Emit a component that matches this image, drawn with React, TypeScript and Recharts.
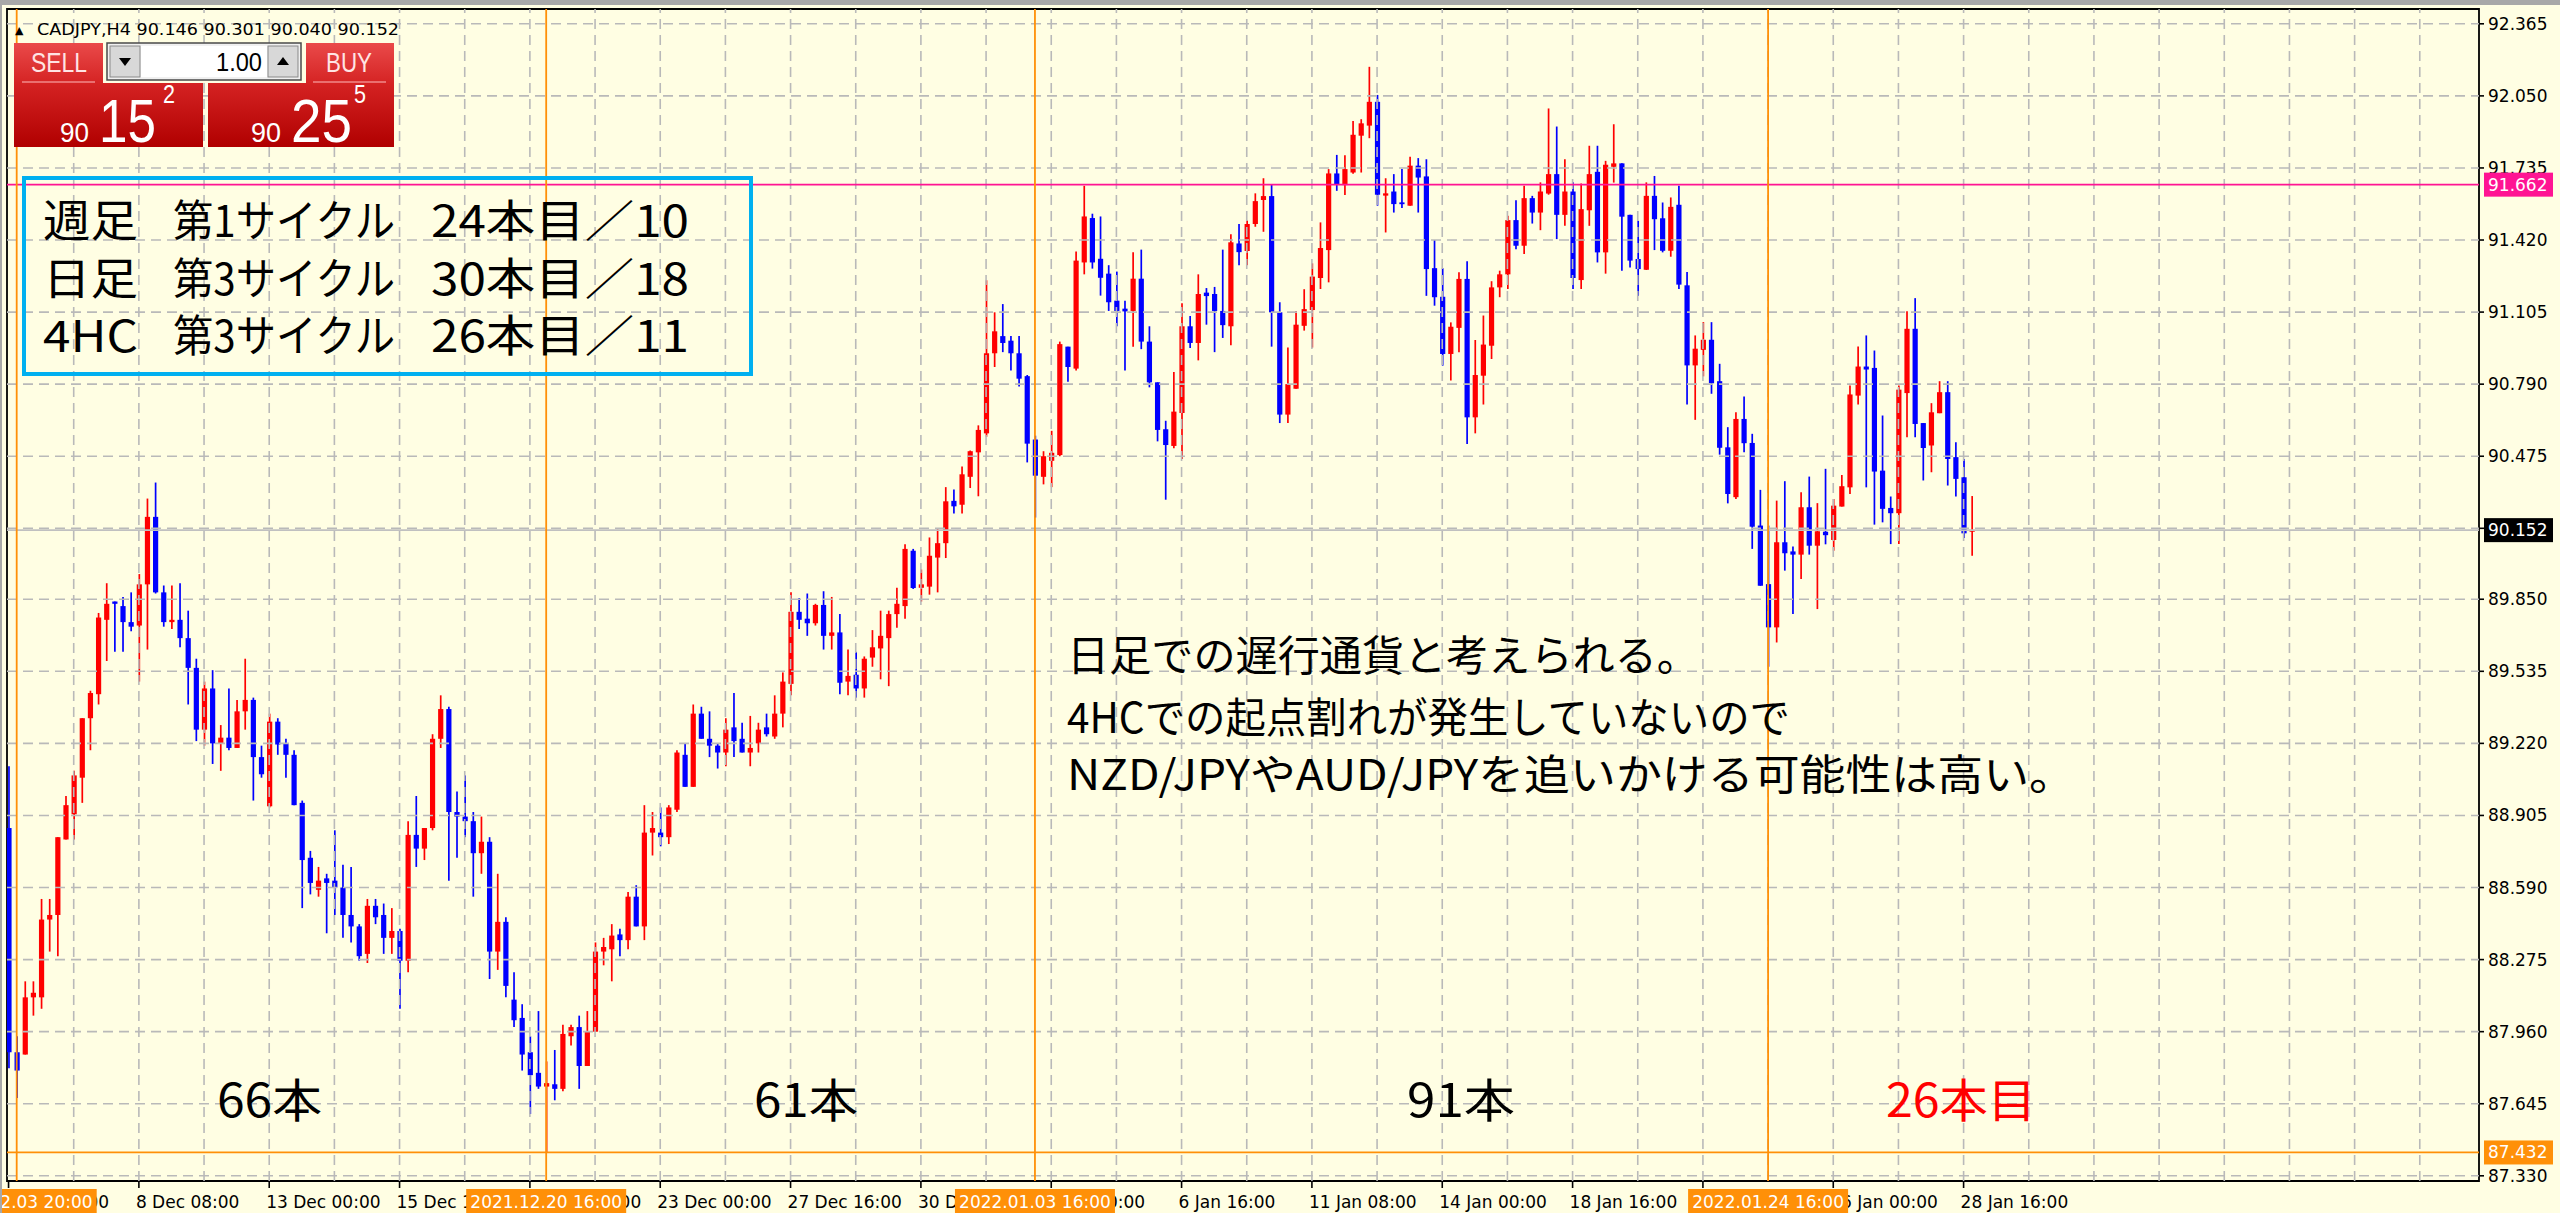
import React from "react"
import { ComposedChart, XAxis, YAxis, Bar, ReferenceLine, ReferenceArea } from "recharts"

// CADJPY H4, bar 0 = 2021.12.03 16:00 ... bar 241 = 2022.01.28 16:00
const opens = [
  88.85, 87.87, 87.86, 88.11, 88.11, 88.45, 88.47, 88.8, 88.91, 89.07,
  89.33, 89.435, 89.76, 89.84, 89.82, 89.75, 89.735, 89.915, 90.21, 89.88,
  89.75, 89.76, 89.68, 89.55, 89.28, 89.46, 89.22, 89.245, 89.2, 89.36,
  89.41, 89.16, 88.945, 89.315, 89.22, 89.17, 88.96, 88.72, 88.58, 88.63,
  88.62, 88.59, 88.47, 88.42, 88.3, 88.51, 88.47, 88.37, 88.4, 88.27,
  88.82, 88.76, 88.85, 89.24, 89.37, 88.92, 88.9, 88.88, 88.74, 88.79,
  88.31, 88.44, 88.1, 88.02, 87.87, 87.78, 87.72, 87.73, 87.71, 87.94,
  87.98, 87.81, 87.96, 88.31, 88.32, 88.385, 88.36, 88.55, 88.42, 88.83,
  88.83, 88.81, 88.93, 89.17, 89.03, 89.35, 89.24, 89.21, 89.18, 89.29,
  89.24, 89.18, 89.22, 89.29, 89.25, 89.35, 89.48, 89.795, 89.765, 89.745,
  89.825, 89.69, 89.705, 89.49, 89.52, 89.46, 89.595, 89.635, 89.68, 89.785,
  89.82, 90.062, 89.9, 89.905, 90.032, 90.095, 90.28, 90.263, 90.385, 90.492,
  90.575, 90.925, 91.0, 90.98, 90.925, 90.825, 90.548, 90.385, 90.455, 90.48,
  90.954, 90.858, 91.322, 91.516, 91.338, 91.273, 91.155, 91.12, 91.11, 91.251,
  90.976, 90.798, 90.593, 90.52, 90.664, 91.043, 90.97, 91.19, 91.184, 91.11,
  91.043, 91.405, 91.372, 91.49, 91.595, 91.612, 91.104, 90.657, 90.77, 91.045,
  91.114, 91.254, 91.376, 91.711, 91.66, 91.715, 91.876, 91.92, 92.024, 91.614,
  91.632, 91.584, 91.57, 91.745, 91.698, 91.297, 91.172, 90.922, 91.036, 91.25,
  90.645, 90.827, 90.958, 91.213, 91.27, 91.507, 91.395, 91.603, 91.54, 91.623,
  91.708, 91.53, 91.632, 91.245, 91.55, 91.718, 91.366, 91.74, 91.755, 91.53,
  91.337, 91.29, 91.613, 91.515, 91.373, 91.574, 91.222, 90.872, 90.94, 90.984,
  90.803, 90.514, 90.296, 90.638, 90.533, 90.172, 89.916, 89.727, 90.099, 90.059,
  90.045, 90.252, 90.084, 90.145, 90.109, 90.255, 90.339, 90.74, 90.867, 90.861,
  90.412, 90.249, 90.226, 90.751, 91.032, 90.62, 90.522, 90.663, 90.755, 90.471,
  90.383, 90.146,
]
const highs = [
  89.12, 87.94, 88.18, 88.18, 88.54, 88.54, 88.81, 88.99, 89.1, 89.33,
  89.45, 89.79, 89.92, 89.84, 89.86, 89.88, 89.96, 90.29, 90.36, 89.91,
  89.91, 89.92, 89.8, 89.59, 89.49, 89.54, 89.3, 89.46, 89.41, 89.59,
  89.42, 89.21, 89.35, 89.33, 89.24, 89.19, 88.97, 88.75, 88.68, 88.65,
  88.84, 88.69, 88.68, 88.43, 88.54, 88.54, 88.52, 88.5, 88.41, 88.88,
  88.99, 88.85, 89.26, 89.43, 89.38, 89.01, 89.08, 88.92, 88.9, 88.81,
  88.65, 88.46, 88.22, 88.08, 87.94, 88.05, 87.83, 87.88, 87.99, 87.99,
  88.03, 88.05, 88.35, 88.37, 88.43, 88.41, 88.57, 88.6, 88.95, 88.92,
  88.94, 88.95, 89.19, 89.22, 89.39, 89.38, 89.36, 89.22, 89.33, 89.44,
  89.31, 89.34, 89.31, 89.35, 89.43, 89.53, 89.88, 89.855, 89.875, 89.83,
  89.885, 89.86, 89.785, 89.63, 89.62, 89.6, 89.715, 89.8, 89.8, 89.9,
  90.09, 90.07, 89.98, 90.12, 90.16, 90.34, 90.33, 90.43, 90.5, 90.61,
  91.244, 91.104, 91.14, 91.0, 91.0, 90.83, 90.565, 90.497, 90.586, 90.976,
  90.954, 91.37, 91.657, 91.535, 91.523, 91.31, 91.282, 91.155, 91.367, 91.378,
  91.043, 90.798, 90.63, 90.843, 91.144, 91.088, 91.27, 91.21, 91.215, 91.378,
  91.445, 91.49, 91.505, 91.624, 91.69, 91.661, 91.148, 90.95, 91.11, 91.205,
  91.318, 91.497, 91.73, 91.792, 91.79, 91.94, 91.948, 92.177, 92.054, 91.69,
  91.708, 91.73, 91.784, 91.778, 91.773, 91.42, 91.297, 91.06, 91.279, 91.327,
  90.983, 91.09, 91.24, 91.286, 91.526, 91.594, 91.657, 91.613, 91.672, 91.995,
  91.916, 91.773, 91.672, 91.667, 91.832, 91.832, 91.766, 91.926, 91.755, 91.53,
  91.504, 91.672, 91.7, 91.584, 91.606, 91.657, 91.28, 91.003, 91.061, 91.061,
  90.879, 90.602, 90.667, 90.736, 90.573, 90.328, 90.172, 90.281, 90.366, 90.08,
  90.318, 90.386, 90.27, 90.42, 90.288, 90.393, 90.784, 90.955, 91.003, 90.937,
  90.653, 90.299, 90.784, 91.109, 91.166, 90.62, 90.707, 90.803, 90.803, 90.536,
  90.463, 90.301,
]
const lows = [
  87.8, 87.67, 87.86, 88.03, 88.06, 88.31, 88.29, 88.8, 88.8, 88.96,
  89.19, 89.39, 89.58, 89.62, 89.62, 89.71, 89.49, 89.63, 89.875, 89.73,
  89.72, 89.64, 89.39, 89.23, 89.21, 89.13, 89.1, 89.19, 89.2, 89.28,
  88.97, 89.07, 88.94, 89.17, 89.07, 88.95, 88.5, 88.56, 88.55, 88.39,
  88.47, 88.37, 88.35, 88.27, 88.26, 88.43, 88.3, 88.3, 88.06, 88.22,
  88.68, 88.71, 88.84, 89.2, 88.62, 88.72, 88.81, 88.55, 88.65, 88.19,
  88.23, 88.11, 87.98, 87.79, 87.6, 87.71, 87.432, 87.66, 87.7, 87.9,
  87.71, 87.81, 87.96, 88.25, 88.18, 88.29, 88.32, 88.42, 88.36, 88.73,
  88.77, 88.78, 88.92, 89.03, 89.03, 89.24, 89.16, 89.11, 89.12, 89.16,
  89.18, 89.12, 89.18, 89.25, 89.24, 89.29, 89.43, 89.72, 89.69, 89.735,
  89.63, 89.63, 89.435, 89.43, 89.42, 89.42, 89.555, 89.5, 89.47, 89.725,
  89.765, 89.895, 89.84, 89.87, 89.88, 90.03, 90.225, 90.225, 90.336, 90.3,
  90.56, 90.865, 90.93, 90.85, 90.78, 90.448, 90.207, 90.352, 90.34, 90.475,
  90.8, 90.85, 91.27, 91.295, 91.177, 91.11, 91.043, 90.85, 90.954, 90.943,
  90.776, 90.54, 90.285, 90.51, 90.463, 90.948, 90.894, 91.05, 90.93, 90.992,
  90.96, 91.31, 91.31, 91.478, 91.456, 90.954, 90.62, 90.62, 90.77, 91.024,
  90.95, 91.206, 91.235, 91.635, 91.617, 91.71, 91.715, 91.865, 91.57, 91.453,
  91.54, 91.56, 91.57, 91.54, 91.176, 91.133, 90.871, 90.806, 90.93, 90.529,
  90.575, 90.701, 90.9, 91.17, 91.206, 91.38, 91.359, 91.492, 91.463, 91.618,
  91.424, 91.482, 91.206, 91.206, 91.482, 91.322, 91.273, 91.671, 91.286, 91.3,
  91.176, 91.289, 91.376, 91.366, 91.347, 91.206, 90.701, 90.634, 90.824, 90.748,
  90.482, 90.269, 90.288, 90.492, 90.07, 89.909, 89.555, 89.661, 89.975, 89.785,
  89.938, 90.045, 89.807, 90.09, 90.062, 90.255, 90.31, 90.701, 90.339, 90.176,
  90.186, 90.091, 90.091, 90.558, 90.558, 90.369, 90.405, 90.663, 90.347, 90.299,
  90.118, 90.04,
]
const closes = [
  87.87, 87.79, 88.11, 88.13, 88.45, 88.47, 88.81, 88.95, 89.08, 89.33,
  89.44, 89.77, 89.83, 89.83, 89.75, 89.73, 89.915, 90.21, 89.88, 89.75,
  89.76, 89.68, 89.55, 89.28, 89.46, 89.22, 89.245, 89.2, 89.36, 89.41,
  89.16, 89.085, 89.315, 89.215, 89.17, 88.95, 88.71, 88.61, 88.62, 88.61,
  88.59, 88.47, 88.42, 88.29, 88.51, 88.46, 88.37, 88.4, 88.27, 88.82,
  88.76, 88.85, 89.24, 89.37, 88.92, 88.9, 88.88, 88.74, 88.79, 88.31,
  88.44, 88.16, 88.01, 87.86, 87.77, 87.72, 87.735, 87.71, 87.95, 87.98,
  87.81, 87.96, 88.31, 88.33, 88.38, 88.36, 88.55, 88.42, 88.83, 88.85,
  88.81, 88.94, 89.18, 89.03, 89.35, 89.24, 89.21, 89.18, 89.28, 89.23,
  89.18, 89.2, 89.28, 89.26, 89.35, 89.49, 89.795, 89.76, 89.745, 89.825,
  89.69, 89.705, 89.485, 89.515, 89.46, 89.59, 89.64, 89.69, 89.785, 89.83,
  90.07, 89.899, 89.915, 90.04, 90.095, 90.278, 90.256, 90.396, 90.497, 90.59,
  90.925, 91.021, 90.97, 90.925, 90.814, 90.53, 90.39, 90.475, 90.49, 90.965,
  90.865, 91.33, 91.523, 91.322, 91.255, 91.148, 91.11, 91.108, 91.251, 90.976,
  90.798, 90.59, 90.524, 90.67, 91.043, 90.97, 91.184, 91.175, 91.11, 91.048,
  91.41, 91.367, 91.49, 91.59, 91.612, 91.104, 90.657, 90.79, 91.05, 91.118,
  91.26, 91.385, 91.711, 91.661, 91.73, 91.88, 91.93, 92.024, 91.618, 91.624,
  91.577, 91.577, 91.745, 91.693, 91.293, 91.17, 90.922, 91.041, 91.25, 90.645,
  90.83, 90.963, 91.213, 91.27, 91.507, 91.395, 91.603, 91.54, 91.632, 91.708,
  91.53, 91.632, 91.254, 91.555, 91.708, 91.366, 91.749, 91.755, 91.522, 91.33,
  91.293, 91.613, 91.511, 91.373, 91.565, 91.225, 90.872, 90.945, 90.984, 90.794,
  90.512, 90.31, 90.638, 90.532, 90.167, 89.909, 89.727, 90.099, 90.051, 90.045,
  90.252, 90.084, 90.147, 90.13, 90.259, 90.344, 90.745, 90.867, 90.854, 90.408,
  90.245, 90.226, 90.766, 91.032, 90.616, 90.511, 90.667, 90.755, 90.463, 90.376,
  90.138, 90.152,
]

const priceLevels = [
  92.365, 92.05, 91.735, 91.42, 91.105, 90.79, 90.475, 90.16, 89.85,
  89.535, 89.22, 88.905, 88.59, 88.275, 87.96, 87.645, 87.33,
]
const timeTickBars = [0, 16, 32, 48, 64, 80, 96, 112, 128, 144, 160, 176, 192, 208, 224, 240]
const timeTickLabels = [
  "3 Dec 16:00", "8 Dec 08:00", "13 Dec 00:00", "15 Dec 16:00", "20 Dec 08:00", "23 Dec 00:00",
  "27 Dec 16:00", "30 Dec 08:00", "4 Jan 00:00", "6 Jan 16:00", "11 Jan 08:00", "14 Jan 00:00",
  "18 Jan 16:00", "21 Jan 08:00", "26 Jan 00:00", "28 Jan 16:00",
]
const cycleBars = [1, 66, 126, 216]
const cycleDates = ["2021.12.03 20:00", "2021.12.20 16:00", "2022.01.03 16:00", "2022.01.24 16:00"]
const cycleCounts = ["66本", "61本", "91本", "26本目"]
const resistanceLevel = 91.662
const bidLevel = 90.152
const supportLevel = 87.432

const W = 2560
const H = 1213
const X_DOMAIN: [number, number] = [-0.19, 303.27]
const Y_DOMAIN: [number, number] = [87.3073, 92.4297]
const gridBars = Array.from({ length: 37 }, (_, k) => (k + 1) * 8)

const BG = "#fffee3"
const UP = "#ff0000"
const DOWN = "#0000ff"
const GRID = "#b9b9b9"
const ORANGE = "#ff9008"
const MAGENTA = "#ff1493"
const BID = "#c0c0c0"
const AXIS_FONT = "'DejaVu Sans', Verdana, sans-serif"
const JP_FONT = "'Noto Sans CJK JP', 'Noto Sans', sans-serif"
const NARROW = "'Liberation Sans Narrow', 'Liberation Sans', Arial, sans-serif"

const rows = opens.map((o, i) => ({ i, o, h: highs[i], l: lows[i], c: closes[i] }))

function Candle(props: any) {
  const { x, y, width, height, payload } = props
  if (!payload) return null
  const top = Math.min(y, y + height)
  const bottom = Math.max(y, y + height)
  const { o, h, l, c } = payload
  const toY = (p: number) => top + ((h - p) / (h - l || 1)) * (bottom - top)
  const cx = x + width / 2
  const color = c >= o ? UP : DOWN
  let y1 = toY(Math.max(o, c))
  let y2 = toY(Math.min(o, c))
  if (y2 - y1 < 1.8) {
    const m = (y1 + y2) / 2
    y1 = m - 0.9
    y2 = m + 0.9
  }
  return (
    <g>
      <line x1={cx} x2={cx} y1={top} y2={bottom} stroke={color} strokeWidth={1.7} />
      <rect x={cx - 2.6} y={y1} width={5.2} height={y2 - y1} fill={color} />
    </g>
  )
}

function TimeLabel({ viewBox, text }: any) {
  if (!viewBox) return null
  const x = viewBox.x
  const base = viewBox.y + viewBox.height
  return (
    <g>
      <line x1={x} x2={x} y1={base} y2={base + 7} stroke="#000" strokeWidth={1.6} />
      <text x={x - 3} y={base + 27} fontFamily={AXIS_FONT} fontSize={17} fill="#000">
        {text}
      </text>
    </g>
  )
}

function PriceLabel({ viewBox, text }: any) {
  if (!viewBox) return null
  const r = viewBox.x + viewBox.width
  const y = viewBox.y
  return (
    <g>
      <line x1={r} x2={r + 5} y1={y} y2={y} stroke="#000" strokeWidth={1.6} />
      <text x={r + 9} y={y} dominantBaseline="central" fontFamily={AXIS_FONT} fontSize={17} fill="#000">
        {text}
      </text>
    </g>
  )
}

function PriceBox({ viewBox, text, fill }: any) {
  if (!viewBox) return null
  const r = viewBox.x + viewBox.width
  const y = viewBox.y
  return (
    <g>
      <rect x={r + 5} y={y - 12} width={69} height={24} fill={fill} />
      <text x={r + 9} y={y} dominantBaseline="central" fontFamily={AXIS_FONT} fontSize={17} fill="#fff">
        {text}
      </text>
    </g>
  )
}

function DateBox({ viewBox, text }: any) {
  if (!viewBox) return null
  const x = viewBox.x
  const base = viewBox.y + viewBox.height
  return (
    <g>
      <rect x={x - 80} y={base + 8} width={160} height={25} fill={ORANGE} />
      <text x={x} y={base + 27} textAnchor="middle" fontFamily={AXIS_FONT} fontSize={17} fill="#fff">
        {text}
      </text>
    </g>
  )
}

function TradePanel() {
  return (
    <g>
      <defs>
        <linearGradient id="redBtn" x1="0" y1="43" x2="0" y2="147" gradientUnits="userSpaceOnUse">
          <stop offset="0" stopColor="#ea4a4a" />
          <stop offset="0.4" stopColor="#d42222" />
          <stop offset="1" stopColor="#b00000" />
        </linearGradient>
      </defs>
      <rect x={14} y={43} width={89} height={42} fill="url(#redBtn)" />
      <rect x={14} y={83} width={189} height={64} fill="url(#redBtn)" />
      <rect x={306} y={43} width={88} height={42} fill="url(#redBtn)" />
      <rect x={208} y={83} width={186} height={64} fill="url(#redBtn)" />
      <line x1={22} x2={95} y1={82} y2={82} stroke="#f08a8a" strokeWidth={1.5} />
      <line x1={313} x2={386} y1={82} y2={82} stroke="#f08a8a" strokeWidth={1.5} />
      <text x={31} y={72} fontFamily={NARROW} fontSize={28} fill="#ffe4e4" textLength={56} lengthAdjust="spacingAndGlyphs">SELL</text>
      <text x={326} y={72} fontFamily={NARROW} fontSize={28} fill="#ffe4e4" textLength={46} lengthAdjust="spacingAndGlyphs">BUY</text>
      <rect x={107} y={43} width={194} height={37} fill="#f0f0f0" stroke="#4a4a4a" strokeWidth={1.5} />
      <rect x={110} y={46} width={30} height={31} fill="#d8d8d8" stroke="#8a8a8a" />
      <rect x={268} y={46} width={30} height={31} fill="#d8d8d8" stroke="#8a8a8a" />
      <rect x={141} y={46} width={126} height={31} fill="#ffffff" />
      <polygon points="119,58 131,58 125,66" fill="#000" />
      <polygon points="277,65 289,65 283,57" fill="#000" />
      <text x={262} y={71} textAnchor="end" fontFamily={NARROW} fontSize={26} fill="#000" textLength={46} lengthAdjust="spacingAndGlyphs">1.00</text>
      <text x={60} y={142} fontFamily={NARROW} fontSize={27} fill="#fff" textLength={29} lengthAdjust="spacingAndGlyphs">90</text>
      <text x={99} y={142} fontFamily={NARROW} fontSize={62} fill="#fff" textLength={57} lengthAdjust="spacingAndGlyphs">15</text>
      <text x={163} y={103} fontFamily={NARROW} fontSize={25} fill="#fff" textLength={12} lengthAdjust="spacingAndGlyphs">2</text>
      <text x={251} y={142} fontFamily={NARROW} fontSize={27} fill="#fff" textLength={30} lengthAdjust="spacingAndGlyphs">90</text>
      <text x={291} y={142} fontFamily={NARROW} fontSize={62} fill="#fff" textLength={61} lengthAdjust="spacingAndGlyphs">25</text>
      <text x={354} y={103} fontFamily={NARROW} fontSize={25} fill="#fff" textLength={12} lengthAdjust="spacingAndGlyphs">5</text>
    </g>
  )
}

function Notes() {
  const boxRows = [
    ["週足", "第1サイクル", "24本目／10"],
    ["日足", "第3サイクル", "30本目／18"],
    ["4HC", "第3サイクル", "26本目／11"],
  ]
  const rowY = [218, 276, 333]
  const commentLines = [
    { text: "日足での遅行通貨と考えられる。", len: 632 },
    { text: "4HCでの起点割れが発生していないので", len: 723 },
    { text: "NZD/JPYやAUD/JPYを追いかける可能性は高い。", len: 1008 },
  ]
  const commentY = [652, 714, 771]
  const countX = [217, 754, 1407, 1886]
  const countLen = [105, 104, 108, 150]
  return (
    <g>
      <rect x={24} y={178} width={727} height={196} fill="none" stroke="#00b0f0" strokeWidth={4} />
      {boxRows.map((r, k) => (
        <g key={k} fontFamily={JP_FONT} fontSize={44} fill="#000">
          <text x={43} y={rowY[k]} dominantBaseline="central" textLength={95} lengthAdjust="spacingAndGlyphs">{r[0]}</text>
          <text x={173} y={rowY[k]} dominantBaseline="central" textLength={222} lengthAdjust="spacingAndGlyphs">{r[1]}</text>
          <text x={431} y={rowY[k]} dominantBaseline="central" textLength={258} lengthAdjust="spacingAndGlyphs">{r[2]}</text>
        </g>
      ))}
      {commentLines.map((c, k) => (
        <text key={k} x={1067} y={commentY[k]} dominantBaseline="central" fontFamily={JP_FONT} fontSize={42}
          fill="#000" textLength={c.len} lengthAdjust="spacingAndGlyphs">{c.text}</text>
      ))}
      {cycleCounts.map((t, k) => (
        <text key={t} x={countX[k]} y={1097} dominantBaseline="central" fontFamily={JP_FONT} fontSize={46}
          fill={k === 3 ? "#ff0000" : "#000"} textLength={countLen[k]} lengthAdjust="spacingAndGlyphs">{t}</text>
      ))}
    </g>
  )
}

export default function App() {
  return (
    <div style={{ position: "absolute", left: 0, top: 0, width: W, height: H, background: BG, overflow: "hidden" }}>
      <ComposedChart width={W} height={H} data={rows} margin={{ top: 9, right: 81, bottom: 32, left: 7 }}>
        <XAxis type="number" dataKey="i" domain={X_DOMAIN} allowDataOverflow hide />
        <YAxis type="number" domain={Y_DOMAIN} allowDataOverflow hide />
        {gridBars.map((b) => (
          <ReferenceLine key={"vg" + b} x={b} stroke={GRID} strokeWidth={1.6} strokeDasharray="10 6" />
        ))}
        {priceLevels.map((p) => (
          <ReferenceLine key={"hg" + p} y={p} stroke={GRID} strokeWidth={1.6} strokeDasharray="10 6"
            label={(lp: any) => <PriceLabel viewBox={lp.viewBox} text={p.toFixed(3)} />} />
        ))}
        {timeTickBars.map((b, k) => (
          <ReferenceLine key={"tt" + b} x={b} stroke="none"
            label={(lp: any) => <TimeLabel viewBox={lp.viewBox} text={timeTickLabels[k]} />} />
        ))}
        <ReferenceArea x1={X_DOMAIN[0]} x2={X_DOMAIN[1]} y1={Y_DOMAIN[0]} y2={Y_DOMAIN[1]}
          fill="none" stroke="#000" strokeWidth={1.8} ifOverflow="visible" />
        <ReferenceLine y={bidLevel} stroke={BID} strokeWidth={1.8}
          label={(lp: any) => <PriceBox viewBox={lp.viewBox} text={bidLevel.toFixed(3)} fill="#000" />} />
        <ReferenceLine y={resistanceLevel} stroke={MAGENTA} strokeWidth={1.6}
          label={(lp: any) => <PriceBox viewBox={lp.viewBox} text={resistanceLevel.toFixed(3)} fill={MAGENTA} />} />
        <ReferenceLine y={supportLevel} stroke={ORANGE} strokeWidth={1.8}
          label={(lp: any) => <PriceBox viewBox={lp.viewBox} text={supportLevel.toFixed(3)} fill={ORANGE} />} />
        {cycleBars.map((b, k) => (
          <ReferenceLine key={"cy" + b} x={b} stroke={ORANGE} strokeWidth={1.8}
            label={(lp: any) => <DateBox viewBox={lp.viewBox} text={cycleDates[k]} />} />
        ))}
        <Bar dataKey={(d: any) => [d.l, d.h]} barSize={5} isAnimationActive={false}
          shape={(p: any) => <Candle {...p} />} />
      </ComposedChart>
      <svg width={W} height={H} style={{ position: "absolute", left: 0, top: 0, pointerEvents: "none" }}>
        <rect x={0} y={0} width={W} height={5} fill="#a8a8a8" />
        <rect x={0} y={0} width={2} height={H} fill="#a8a8a8" />
        <text x={15} y={34} fontFamily={AXIS_FONT} fontSize={11} fill="#000">▲</text>
        <text x={37} y={35} fontFamily={AXIS_FONT} fontSize={16} fill="#000" textLength={362}
          lengthAdjust="spacingAndGlyphs">CADJPY,H4  90.146 90.301 90.040 90.152</text>
        <TradePanel />
        <Notes />
      </svg>
    </div>
  )
}
